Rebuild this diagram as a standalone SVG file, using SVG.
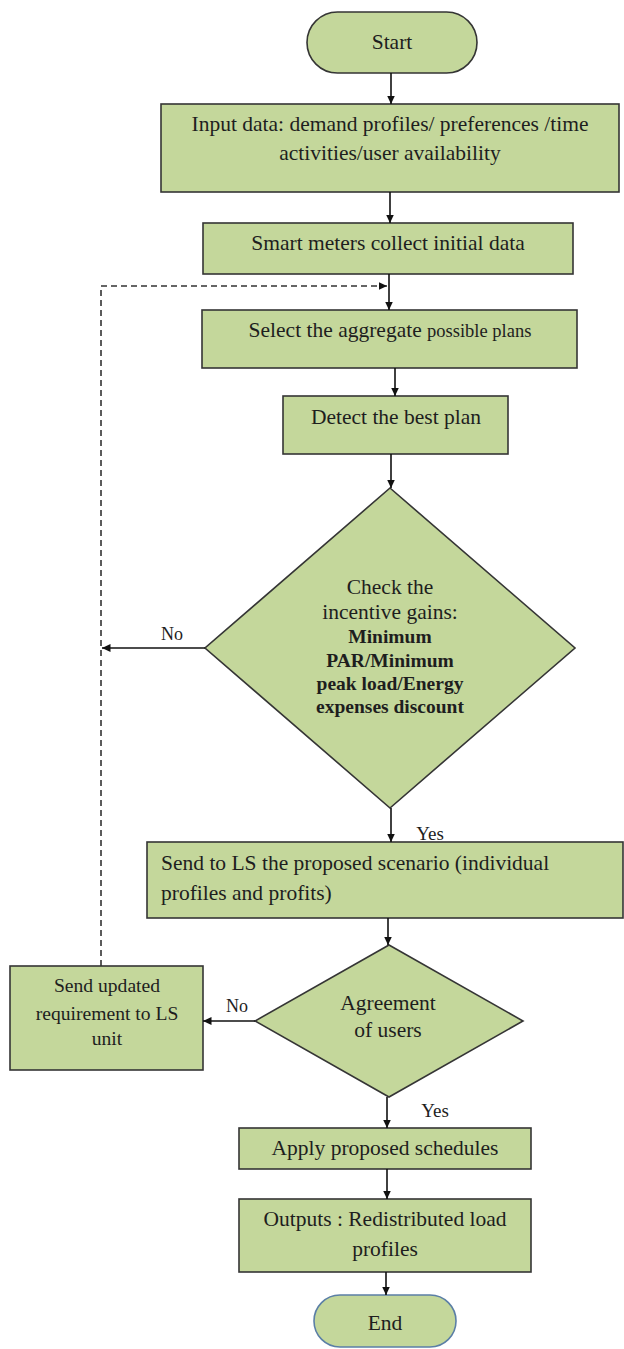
<svg xmlns="http://www.w3.org/2000/svg" width="624" height="1349" viewBox="0 0 624 1349">
<style>
.n{fill:#c4d79b;stroke:#353535;stroke-width:1.6}
.t{font-family:"Liberation Serif","Times New Roman",serif;font-size:21.5px;fill:#1e1e1e;text-anchor:middle}
.b{font-weight:bold;font-size:19.5px}
.c{fill:none;stroke:#111;stroke-width:1.6}
.d{fill:none;stroke:#333;stroke-width:1.6;stroke-dasharray:6,4}
</style>
<defs>
<marker id="ah" markerUnits="userSpaceOnUse" markerWidth="9" markerHeight="9" refX="8.5" refY="4" orient="auto">
<path d="M0,0 L8.5,4 L0,8 z" fill="#111"/>
</marker>
</defs>
<rect width="624" height="1349" fill="#fff"/>
<g id="start"><rect class="n" x="307" y="12" width="170" height="61" rx="30.5"/><text class="t" x="392" y="49">Start</text></g>
<g id="input"><rect class="n" x="161" y="104" width="458" height="88"/><text class="t" x="390" y="131">Input data: demand profiles/ preferences /time</text><text class="t" x="390" y="160">activities/user availability</text></g>
<g id="smart"><rect class="n" x="203" y="223" width="370" height="51"/><text class="t" x="388" y="250">Smart meters collect initial data</text></g>
<g id="select"><rect class="n" x="202" y="310" width="375" height="58"/><text class="t" x="390" y="337">Select the aggregate <tspan font-size="18.5px">possible plans</tspan></text></g>
<g id="detect"><rect class="n" x="283" y="396" width="225" height="58"/><text class="t" x="396" y="424">Detect the best plan</text></g>
<g id="check"><polygon class="n" points="390,488 575,648 390,808 205,648"/>
<text class="t" x="390" y="594">Check the</text><text class="t" x="390" y="619">incentive gains:</text>
<text class="t b" x="390" y="643">Minimum</text><text class="t b" x="390" y="667">PAR/Minimum</text><text class="t b" x="390" y="690">peak load/Energy</text><text class="t b" x="390" y="713">expenses discount</text></g>
<g id="sendls"><rect class="n" x="147" y="842" width="476" height="76"/><text class="t" style="text-anchor:start" x="161" y="870">Send to LS the proposed scenario (individual</text><text class="t" style="text-anchor:start" x="161" y="900">profiles and profits)</text></g>
<g id="agree"><polygon class="n" points="389,945 523,1021 389,1097 255,1021"/><text class="t" x="388" y="1010">Agreement</text><text class="t" x="388" y="1037">of users</text></g>
<g id="update"><rect class="n" x="10" y="966" width="193" height="104"/><text class="t" style="font-size:19.6px" x="107" y="992">Send updated</text><text class="t" style="font-size:19.6px" x="107" y="1020">requirement to LS</text><text class="t" style="font-size:19.6px" x="107" y="1045">unit</text></g>
<g id="apply"><rect class="n" x="239" y="1128" width="292" height="41"/><text class="t" x="385" y="1155">Apply proposed schedules</text></g>
<g id="outputs"><rect class="n" x="239" y="1199" width="292" height="73"/><text class="t" x="385" y="1226">Outputs : Redistributed load</text><text class="t" x="385" y="1256">profiles</text></g>
<g id="end"><rect x="314" y="1295" width="142" height="52" rx="26" fill="#c4d79b" stroke="#5b7fa6" stroke-width="1.6"/><text class="t" x="385" y="1330">End</text></g>
<g id="connectors">
<path class="c" d="M391,73 V104" marker-end="url(#ah)"/>
<path class="c" d="M390,192 V223" marker-end="url(#ah)"/>
<path class="c" d="M389,274 V310" marker-end="url(#ah)"/>
<path class="c" d="M395,368 V396" marker-end="url(#ah)"/>
<path class="c" d="M391,454 V488" marker-end="url(#ah)"/>
<path class="c" d="M205,648 H102" marker-end="url(#ah)"/>
<path class="c" d="M391,808 V842" marker-end="url(#ah)"/>
<path class="c" d="M388,918 V945" marker-end="url(#ah)"/>
<path class="c" d="M255,1021 H203" marker-end="url(#ah)"/>
<path class="c" d="M387,1097 V1128" marker-end="url(#ah)"/>
<path class="c" d="M387,1169 V1199" marker-end="url(#ah)"/>
<path class="c" d="M386,1272 V1295" marker-end="url(#ah)"/>
<path class="d" d="M101,966 V286 H387" marker-end="url(#ah)"/>
<text class="t" style="font-size:18px" x="172" y="640">No</text>
<text class="t" style="font-size:19px" x="430" y="840">Yes</text>
<text class="t" style="font-size:18px" x="237" y="1012">No</text>
<text class="t" style="font-size:19px" x="435" y="1117">Yes</text>
</g>
</svg>
